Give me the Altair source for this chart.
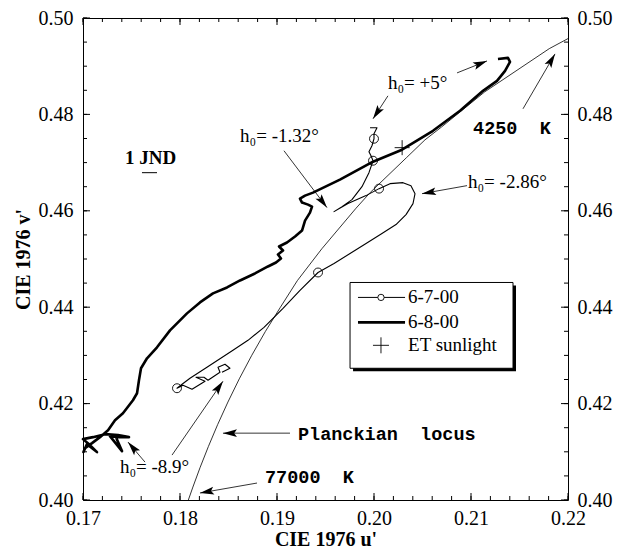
import math
import altair as alt
import pandas as pd

# ---------------- data (CIE 1976 u', v') ----------------
# Planckian locus, 77000 K ... 4250 K
u_planck = [0.18086, 0.18133, 0.18208, 0.18293, 0.18388, 0.18494, 0.18611, 0.18740,
            0.18880, 0.19032, 0.19210, 0.19462, 0.19815, 0.19962, 0.20337, 0.20525,
            0.20696, 0.21142, 0.21807, 0.22000]
v_planck = [0.39999, 0.40269, 0.40679, 0.41111, 0.41564, 0.42032, 0.42513, 0.43002,
            0.43496, 0.43989, 0.44552, 0.45212, 0.46054, 0.46382, 0.47107, 0.47471,
            0.47738, 0.48468, 0.49364, 0.49573]

# 6-8-00 twilight track (thick)
u_680 = [0.21278, 0.21381, 0.21402, 0.21351, 0.21268, 0.21124, 0.20887, 0.20608, 0.20289, 0.19990,
         0.19649, 0.19371, 0.19289, 0.19237, 0.19258, 0.19320, 0.19361, 0.19340, 0.19289, 0.19258,
         0.19186, 0.19103, 0.19021, 0.19062, 0.19010, 0.19041, 0.18990, 0.18907, 0.18773, 0.18619,
         0.18485, 0.18340, 0.18206, 0.18072, 0.17897, 0.17763, 0.17660, 0.17598, 0.17577, 0.17557,
         0.17515, 0.17412, 0.17330, 0.17258, 0.17175, 0.17093, 0.17021, 0.17005, 0.17041, 0.17144,
         0.17072, 0.17000, 0.17103, 0.17227, 0.17361, 0.17474, 0.17381, 0.17278, 0.17402, 0.17340]
v_680 = [0.49151, 0.49172, 0.49089, 0.48903, 0.48696, 0.48489, 0.48075, 0.47660, 0.47267, 0.47019,
         0.46646, 0.46377, 0.46315, 0.46253, 0.46170, 0.46128, 0.46087, 0.45963, 0.45797, 0.45590,
         0.45466, 0.45342, 0.45259, 0.45176, 0.45093, 0.45010, 0.44928, 0.44845, 0.44700, 0.44555,
         0.44410, 0.44286, 0.44099, 0.43872, 0.43520, 0.43168, 0.42940, 0.42733, 0.42484, 0.42215,
         0.42070, 0.41801, 0.41656, 0.41449, 0.41304, 0.41180, 0.41077, 0.40994, 0.41159, 0.40994,
         0.41139, 0.41263, 0.41304, 0.41366, 0.41346, 0.41304, 0.41304, 0.41325, 0.41014, 0.41304]

# 6-7-00 twilight track (thin)
u_670 = [0.19959, 0.20031, 0.20000, 0.20000, 0.19979, 0.19948, 0.19969, 0.19990, 0.19948, 0.19876,
         0.19773, 0.19670, 0.19588, 0.19732, 0.19918, 0.20052, 0.20165, 0.20299, 0.20381, 0.20423,
         0.20402, 0.20330, 0.20227, 0.20082, 0.19918, 0.19753, 0.19588, 0.19423, 0.19237, 0.19062,
         0.18866, 0.18701, 0.18546, 0.18278, 0.18103, 0.18021, 0.17969, 0.18031, 0.18124, 0.18258,
         0.18165, 0.18247, 0.18289, 0.18412, 0.18392, 0.18464, 0.18515, 0.18433]
v_670 = [0.47723, 0.47723, 0.47598, 0.47495, 0.47350, 0.47226, 0.47143, 0.47039, 0.46791, 0.46501,
         0.46232, 0.46087, 0.45983, 0.46149, 0.46315, 0.46460, 0.46563, 0.46584, 0.46522, 0.46356,
         0.46149, 0.45921, 0.45714, 0.45528, 0.45321, 0.45114, 0.44907, 0.44720, 0.44348, 0.43975,
         0.43582, 0.43313, 0.43106, 0.42754, 0.42526, 0.42402, 0.42319, 0.42381, 0.42298, 0.42464,
         0.42547, 0.42547, 0.42484, 0.42650, 0.42754, 0.42816, 0.42733, 0.42650]
# circle markers on 6-7-00
u_670_mk = [0.20000, 0.19990, 0.20052, 0.19423, 0.17969]
v_670_mk = [0.47495, 0.47039, 0.46460, 0.44720, 0.42319]

# extraterrestrial sunlight
u_et = [0.2029]
v_et = [0.4731]

# axis ticks
x_major = [0.17, 0.18, 0.19, 0.20, 0.21, 0.22]
x_minor = [0.170, 0.172, 0.174, 0.176, 0.178, 0.180, 0.182, 0.184, 0.186, 0.188, 0.190,
           0.192, 0.194, 0.196, 0.198, 0.200, 0.202, 0.204, 0.206, 0.208, 0.210,
           0.212, 0.214, 0.216, 0.218, 0.220]
y_major = [0.40, 0.42, 0.44, 0.46, 0.48, 0.50]
y_minor = [0.400, 0.405, 0.410, 0.415, 0.420, 0.425, 0.430, 0.435, 0.440, 0.445, 0.450,
           0.455, 0.460, 0.465, 0.470, 0.475, 0.480, 0.485, 0.490, 0.495, 0.500]

# annotations
serif_labels = ["h₀= -1.32°", "h₀= +5°", "h₀= -2.86°", "h₀= -8.9°"]
serif_u = [0.18619, 0.20144, 0.20969, 0.17381]
serif_v = [0.47433, 0.48530, 0.46480, 0.40559]

NB = "\u00a0\u00a0"
mono_labels = ["4250" + NB + "K", "Planckian" + NB + "locus", "77000" + NB + "K"]
mono_u = [0.21021, 0.19216, 0.18876]
mono_v = [0.47598, 0.41242, 0.40352]

arrow_u1 = [0.19072, 0.20856, 0.20144, 0.20959, 0.21536, 0.19134, 0.18794, 0.17639, 0.17918]
arrow_v1 = [0.47246, 0.48861, 0.48385, 0.46522, 0.48116, 0.41387, 0.40352, 0.40787, 0.40932]
arrow_u2 = [0.19515, 0.21165, 0.19990, 0.20495, 0.21866, 0.18443, 0.18206, 0.17464, 0.18443]
arrow_v2 = [0.46066, 0.49110, 0.47909, 0.46356, 0.49255, 0.41387, 0.40145, 0.41201, 0.42464]

legend_labels = ["6-7-00", "6-8-00", "ET sunlight"]
legend_v = [0.44203, 0.43685, 0.43209]

# ---------------- layout ----------------
W, H = 485, 482
XD, YD = [0.17, 0.22], [0.40, 0.50]
kx = W / (XD[1] - XD[0])
ky = H / (YD[1] - YD[0])

xs = alt.Scale(domain=XD, nice=False, zero=False)
ys = alt.Scale(domain=YD, nice=False, zero=False)
SERIF = "Liberation Serif"
MONO = "Liberation Mono"

ax_bottom = alt.Axis(orient="bottom", values=x_major, format=".2f", ticks=False, domain=False,
                     grid=False, labelPadding=8, labelFlush=False, labelOverlap=False,
                     title="CIE 1976 u'", titlePadding=1)
ax_left = alt.Axis(orient="left", values=y_major, format=".2f", ticks=False, domain=False,
                   grid=False, labelPadding=10, labelOverlap=False,
                   title="CIE 1976 v'", titlePadding=5)
ax_right = alt.Axis(orient="right", values=y_major, format=".2f", ticks=False, domain=False,
                    grid=False, labelPadding=9, labelOverlap=False, title=None)


def X(axis=None, field="u"):
    return alt.X(f"{field}:Q", scale=xs, axis=axis)


def Y(axis=None, field="v"):
    return alt.Y(f"{field}:Q", scale=ys, axis=axis)


df_planck = pd.DataFrame({"u": u_planck, "v": v_planck, "i": range(len(u_planck))})
df_680 = pd.DataFrame({"u": u_680, "v": v_680, "i": range(len(u_680))})
df_670 = pd.DataFrame({"u": u_670, "v": v_670, "i": range(len(u_670))})
df_mk = pd.DataFrame({"u": u_670_mk, "v": v_670_mk})
df_et = pd.DataFrame({"u": u_et, "v": v_et})

planck = alt.Chart(df_planck).mark_line(color="black", strokeWidth=0.8).encode(
    x=X(ax_bottom), y=Y(ax_left), order="i:Q")
line680 = alt.Chart(df_680).mark_line(color="black", strokeWidth=2.6, strokeJoin="round").encode(
    x=X(None), y=Y(None), order="i:Q")
line670 = alt.Chart(df_670).mark_line(color="black", strokeWidth=1.1, strokeJoin="round").encode(
    x=X(None), y=Y(None), order="i:Q")
marks670 = alt.Chart(df_mk).mark_point(shape="circle", filled=False, size=80, color="black",
                                       strokeWidth=0.9, opacity=1).encode(
    x=X(None), y=Y(ax_right))
PLUS = "M-1,0L1,0M0,-1L0,1"
et = alt.Chart(df_et).mark_point(shape=PLUS, filled=False, size=225, color="black",
                                 strokeWidth=0.9, opacity=1).encode(
    x=X(None), y=Y(None))

# inward tick marks on all four sides
tick_layers = []
for vals, ln in ((x_major, 7), (x_minor, 4)):
    dfx = pd.DataFrame({"u": vals})
    tick_layers.append(alt.Chart(dfx).mark_rule(color="black", strokeWidth=1).encode(
        x=X(None), y=alt.value(H), y2=alt.value(H - ln)))
    tick_layers.append(alt.Chart(dfx).mark_rule(color="black", strokeWidth=1).encode(
        x=X(None), y=alt.value(0), y2=alt.value(ln)))
for vals, ln in ((y_major, 7), (y_minor, 4)):
    dfy = pd.DataFrame({"v": vals})
    tick_layers.append(alt.Chart(dfy).mark_rule(color="black", strokeWidth=1).encode(
        y=Y(None), x=alt.value(0), x2=alt.value(ln)))
    tick_layers.append(alt.Chart(dfy).mark_rule(color="black", strokeWidth=1).encode(
        y=Y(None), x=alt.value(W), x2=alt.value(W - ln)))

# 1 JND bar
df_jnd = pd.DataFrame({"u": [0.17608], "u2": [0.17763], "v": [0.46791]})
jnd = alt.Chart(df_jnd).mark_rule(color="black", strokeWidth=1).encode(
    x=X(None), x2="u2:Q", y=Y(None))
df_jnd_t = pd.DataFrame({"u": [0.17433], "v": [0.46977], "t": ["1 JND"]})
jnd_t = alt.Chart(df_jnd_t).mark_text(align="left", baseline="alphabetic", font=SERIF,
                                      fontSize=19, fontWeight="bold", color="black").encode(
    x=X(None), y=Y(None), text="t:N")

# arrows
angles = []
for a, b, c, d in zip(arrow_u1, arrow_v1, arrow_u2, arrow_v2):
    angles.append(math.degrees(math.atan2((c - a) * kx, (d - b) * ky)) % 360)
df_arr = pd.DataFrame({"u": arrow_u1, "v": arrow_v1, "u2": arrow_u2, "v2": arrow_v2, "ang": angles})
arr_lines = alt.Chart(df_arr).mark_rule(color="black", strokeWidth=0.8).encode(
    x=X(None), y=Y(None), x2="u2:Q", y2="v2:Q")
HEAD = "M0,0L0.55,2L0,1.6L-0.55,2Z"
arr_heads = alt.Chart(df_arr).mark_point(shape=HEAD, filled=True, size=196, color="black",
                                         opacity=1, strokeWidth=0).encode(
    x=X(None, "u2"), y=Y(None, "v2"), angle=alt.Angle("ang:Q", scale=None))

df_serif = pd.DataFrame({"u": serif_u, "v": serif_v, "t": serif_labels})
serif_t = alt.Chart(df_serif).mark_text(align="left", baseline="alphabetic", font=SERIF,
                                        fontSize=19, color="black").encode(
    x=X(None), y=Y(None), text="t:N")
df_mono = pd.DataFrame({"u": mono_u, "v": mono_v, "t": mono_labels})
mono_t = alt.Chart(df_mono).mark_text(align="left", baseline="alphabetic", font=MONO,
                                      fontSize=18.5, fontWeight="bold", color="black").encode(
    x=X(None), y=Y(None), text="t:N")

# legend box
bx1, bx2, by1, by2 = 0.19753, 0.21433, 0.44513, 0.42733
sx, sy = 3 / kx, 3 / ky
df_shadow = pd.DataFrame({"u": [bx1 + sx], "u2": [bx2 + sx], "v": [by1 - sy], "v2": [by2 - sy]})
df_box = pd.DataFrame({"u": [bx1], "u2": [bx2], "v": [by1], "v2": [by2]})
shadow = alt.Chart(df_shadow).mark_rect(color="black").encode(
    x=X(None), x2="u2:Q", y=Y(None), y2="v2:Q")
box = alt.Chart(df_box).mark_rect(fill="white", stroke="black", strokeWidth=1).encode(
    x=X(None), x2="u2:Q", y=Y(None), y2="v2:Q")
lx1, lx2, lxc, ltx = 0.19835, 0.20320, 0.20072, 0.20351
df_l1 = pd.DataFrame({"u": [lx1], "u2": [lx2], "v": [legend_v[0]]})
df_l2 = pd.DataFrame({"u": [lx1], "u2": [lx2], "v": [legend_v[1]]})
leg1 = alt.Chart(df_l1).mark_rule(color="black", strokeWidth=1).encode(
    x=X(None), x2="u2:Q", y=Y(None))
leg2 = alt.Chart(df_l2).mark_rule(color="black", strokeWidth=2.6).encode(
    x=X(None), x2="u2:Q", y=Y(None))
leg_c = alt.Chart(pd.DataFrame({"u": [lxc], "v": [legend_v[0]]})).mark_point(
    shape="circle", filled=True, fill="white", stroke="black", size=40, strokeWidth=0.9,
    opacity=1).encode(x=X(None), y=Y(None))
leg_p = alt.Chart(pd.DataFrame({"u": [lxc], "v": [legend_v[2]]})).mark_point(
    shape=PLUS, filled=False, size=256, color="black", strokeWidth=0.9, opacity=1).encode(
    x=X(None), y=Y(None))
leg_t = alt.Chart(pd.DataFrame({"u": [ltx] * 3, "v": legend_v, "t": legend_labels})).mark_text(
    align="left", baseline="middle", font=SERIF, fontSize=19, color="black").encode(
    x=X(None), y=Y(None), text="t:N")

chart = alt.layer(
    planck, line680, line670, marks670, et, *tick_layers, jnd, jnd_t,
    arr_lines, arr_heads, serif_t, mono_t,
    shadow, box, leg1, leg2, leg_c, leg_p, leg_t,
).resolve_axis(x="independent", y="independent").properties(
    width=W, height=H,
    autosize=alt.AutoSizeParams(type="none"),
    padding={"left": 75, "top": 10, "right": 51, "bottom": 52},
    background="white",
).configure_axis(
    labelFont=SERIF, labelFontSize=20, labelColor="black",
    titleFont=SERIF, titleFontSize=20, titleFontWeight="bold", titleColor="black",
).configure_view(stroke="black", strokeWidth=1)

chart.save("out.html", embed_options={"renderer": "svg", "actions": False})
